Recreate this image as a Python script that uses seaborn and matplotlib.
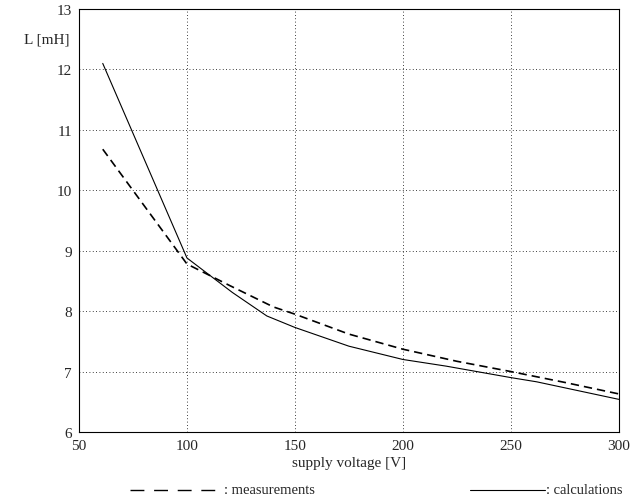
import pandas as pd
import matplotlib
matplotlib.use("Agg")
import matplotlib.pyplot as plt
import seaborn as sns

# supply voltage [V] vs inductance L [mH]
meas_v = [61, 100, 120, 140, 150, 175, 200, 225, 250, 275, 300]
meas_l = [10.68, 8.78, 8.42, 8.07, 7.95, 7.62, 7.37, 7.17, 7.0, 6.82, 6.63]

calc_v = [61, 100, 121, 137, 150, 175, 200, 220, 250, 262, 300]
calc_l = [12.1, 8.88, 8.31, 7.92, 7.73, 7.42, 7.2, 7.09, 6.9, 6.83, 6.54]

x_ticks = [50, 100, 150, 200, 250, 300]
y_ticks = [6, 7, 8, 9, 10, 11, 12, 13]

sns.set_style("white")
plt.rcParams["font.family"] = ["Liberation Serif", "DejaVu Serif"]

df_meas = pd.DataFrame({"v": meas_v, "L": meas_l})
df_calc = pd.DataFrame({"v": calc_v, "L": calc_l})

fig = plt.figure(figsize=(6.34, 5.02), dpi=100)
ax = fig.add_axes([0.1246, 0.1375, 0.8514, 0.8425])

sns.lineplot(data=df_meas, x="v", y="L", ax=ax, color="black", lw=1.2,
             linestyle=(0, (5, 3)), estimator=None, sort=False)
sns.lineplot(data=df_calc, x="v", y="L", ax=ax, color="black", lw=0.8,
             estimator=None, sort=False)

ax.set_xlim(50, 300)
ax.set_ylim(6, 13)
ax.set_xticks(x_ticks)
ax.set_yticks(y_ticks)
ax.grid(True, linestyle=(0, (1, 3)), color="black", lw=0.6)
for s in ax.spines.values():
    s.set_color("black")
    s.set_linewidth(0.8)
ax.tick_params(labelsize=11, length=0, pad=5)
ax.set_xlabel("supply voltage [V]", fontsize=11, labelpad=3)
ax.set_ylabel("")
fig.text(0.11, 0.92, "L [mH]", fontsize=11, ha="right", va="center")

# legend drawn as text lines below the axes
fig.lines.append(plt.Line2D([0.205, 0.353], [0.022, 0.022], transform=fig.transFigure,
                            color="black", lw=1, linestyle=(0, (10, 7))))
fig.text(0.354, 0.022, ": measurements", fontsize=10.5, va="center")
fig.lines.append(plt.Line2D([0.741, 0.86], [0.022, 0.022], transform=fig.transFigure,
                            color="black", lw=0.8))
fig.text(0.861, 0.022, ": calculations", fontsize=10.5, va="center")

fig.savefig("out.png", dpi=100)
